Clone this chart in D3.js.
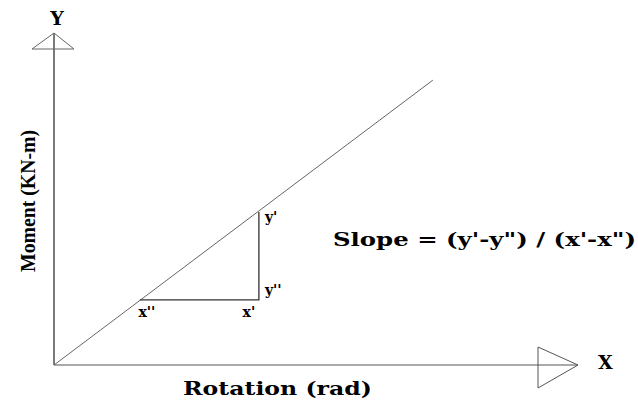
<!DOCTYPE html>
<html>
<head>
<meta charset="utf-8">
<script src="https://cdn.jsdelivr.net/npm/d3@7"></script>
<style>
  body { margin: 0; background: #fff; }
  text { font-family: "DejaVu Serif", "Liberation Serif", serif; font-weight: bold; fill: #000; }
</style>
</head>
<body>
<div id="chart"></div>
<script>
// Schematic data (in arbitrary axis units)
const lineXs = [0, 72.3];          // moment-rotation line, x values
const lineYs = [0, 85.8];          // moment-rotation line, y values
const xPrimes = [16.4, 39.1];      // x'', x'
const yPrimes = [19.6, 46.1];      // y'', y'
const pointLabelsX = ["x''", "x'"];
const pointLabelsY = ["y''", "y'"];

const width = 638, height = 402;

const svg = d3.select("#chart")
    .append("svg")
    .attr("width", width)
    .attr("height", height);

const x = d3.scaleLinear().domain([0, 100]).range([54, 578]);
const y = d3.scaleLinear().domain([0, 100]).range([365, 33]);

// Axes (plain lines with open arrow triangles)
svg.append("line")
    .attr("x1", x(0)).attr("y1", y(0))
    .attr("x2", x(0)).attr("y2", y(100))
    .attr("stroke", "#333").attr("stroke-width", 1.3);

svg.append("line")
    .attr("x1", x(0)).attr("y1", y(0))
    .attr("x2", x(100)).attr("y2", y(0))
    .attr("stroke", "#555").attr("stroke-width", 1.2);

// Y arrow head
svg.append("path")
    .attr("d", `M${x(0) - 22},${y(100) + 16} L${x(0)},${y(100)} L${x(0) + 20},${y(100) + 16} Z`)
    .attr("fill", "none").attr("stroke", "#666").attr("stroke-width", 1);

// X arrow head
svg.append("path")
    .attr("d", `M${x(100) - 40},${y(0) - 18} L${x(100)},${y(0)} L${x(100) - 40},${y(0) + 23} Z`)
    .attr("fill", "none").attr("stroke", "#555").attr("stroke-width", 1);

// Axis letters
svg.append("text")
    .attr("x", 57).attr("y", 25)
    .attr("text-anchor", "middle")
    .style("font-size", "19px")
    .text("Y");

svg.append("text")
    .attr("x", 598).attr("y", 369)
    .style("font-size", "19px")
    .text("X");

// Axis titles
svg.append("text")
    .attr("x", 183).attr("y", 395)
    .attr("textLength", 189)
    .attr("lengthAdjust", "spacingAndGlyphs")
    .style("font-size", "18px")
    .text("Rotation (rad)");

svg.append("text")
    .attr("transform", "translate(35,272) rotate(-90)")
    .attr("textLength", 142)
    .attr("lengthAdjust", "spacingAndGlyphs")
    .style("font-family", "'Liberation Serif', serif")
    .style("font-size", "21px")
    .text("Moment (KN-m)");

// Moment-rotation line
const line = d3.line().x(d => x(d[0])).y(d => y(d[1]));
svg.append("path")
    .datum(d3.zip(lineXs, lineYs))
    .attr("d", line)
    .attr("fill", "none")
    .attr("stroke", "#666")
    .attr("stroke-width", 1);

// Slope triangle
svg.append("path")
    .datum([[xPrimes[0], yPrimes[0]], [xPrimes[1], yPrimes[0]], [xPrimes[1], yPrimes[1]]])
    .attr("d", line)
    .attr("fill", "none")
    .attr("stroke", "#333")
    .attr("stroke-width", 1.3);

// Point labels
svg.selectAll(".xlab")
    .data(xPrimes)
    .enter()
    .append("text")
    .attr("class", "xlab")
    .attr("x", (d, i) => x(d) + (i === 0 ? 7 : -10))
    .attr("y", y(yPrimes[0]) + 17)
    .attr("text-anchor", "middle")
    .style("font-size", "14px")
    .text((d, i) => pointLabelsX[i]);

svg.selectAll(".ylab")
    .data(yPrimes)
    .enter()
    .append("text")
    .attr("class", "ylab")
    .attr("x", x(xPrimes[1]) + 6)
    .attr("y", d => y(d) + (d === yPrimes[0] ? -5 : 10))
    .style("font-size", "14px")
    .text((d, i) => pointLabelsY[i]);

// Slope formula
svg.append("text")
    .attr("x", 333).attr("y", 246)
    .attr("textLength", 303)
    .attr("lengthAdjust", "spacingAndGlyphs")
    .style("font-size", "19px")
    .text("Slope = (y'-y\") / (x'-x\")");
</script>
</body>
</html>
